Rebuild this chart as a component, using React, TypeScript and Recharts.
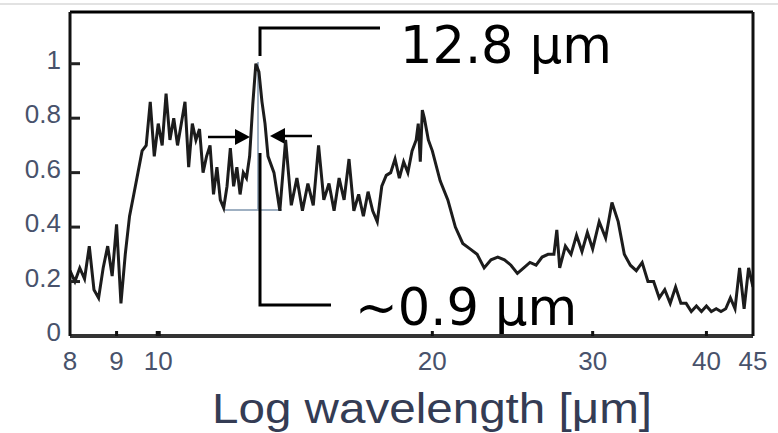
import { Customized, Line, LineChart, ReferenceLine, XAxis, YAxis } from 'recharts';

// wavelength in um, normalised intensity
const wavelength = [
  8.0, 8.1, 8.2, 8.3, 8.4, 8.5, 8.6, 8.7, 8.8, 8.9, 9.0, 9.1, 9.2, 9.3, 9.4, 9.5, 9.6, 9.7, 9.8, 9.9,
  10.0, 10.1, 10.2, 10.3, 10.4, 10.5, 10.6, 10.7, 10.8, 10.9, 11.0, 11.1, 11.2, 11.3, 11.4, 11.5, 11.6, 11.7, 11.8, 11.9,
  12.0, 12.1, 12.2, 12.3, 12.4, 12.5, 12.6, 12.7, 12.8, 12.9, 13.0, 13.1,
  13.2, 13.4, 13.6, 13.8, 14.0, 14.2, 14.4, 14.6, 14.8, 15.0, 15.2, 15.4, 15.6, 15.8, 16.0, 16.2, 16.4, 16.6, 16.8,
  17.0, 17.2, 17.4, 17.6, 17.8, 18.0, 18.2, 18.4, 18.6, 18.8, 19.0, 19.2, 19.3, 19.4, 19.5, 19.6, 19.8, 20.0,
  20.4, 20.8, 21.2, 21.6, 22.0, 22.4, 22.8, 23.2, 23.6, 24.0, 24.4, 24.8, 25.2, 25.6, 26.0, 26.4, 26.8,
  27.2, 27.4, 27.6, 28.0, 28.4, 28.8, 29.2, 29.6, 30.0,
  30.5, 31.0, 31.5, 32.0, 32.5, 33.0, 33.5, 34.0, 34.5, 35.0, 35.5, 36.0, 36.5, 37.0, 37.5, 38.0, 38.5,
  39.0, 39.5, 40.0, 40.5, 41.0, 41.5, 42.0, 42.5, 43.0, 43.5, 44.0, 44.5, 45.0,
];
const intensity = [
  0.24, 0.20, 0.25, 0.21, 0.33, 0.17, 0.14, 0.25, 0.33, 0.22, 0.41, 0.12, 0.30, 0.44, 0.52, 0.60, 0.68, 0.70, 0.86, 0.66,
  0.78, 0.70, 0.89, 0.72, 0.80, 0.70, 0.78, 0.86, 0.62, 0.78, 0.72, 0.76, 0.60, 0.66, 0.70, 0.52, 0.62, 0.50, 0.47, 0.55,
  0.69, 0.55, 0.62, 0.52, 0.60, 0.58, 0.66, 0.85, 1.00, 0.97, 0.86, 0.78,
  0.66, 0.60, 0.46, 0.72, 0.48, 0.58, 0.46, 0.56, 0.48, 0.70, 0.50, 0.56, 0.46, 0.58, 0.50, 0.65, 0.46, 0.52, 0.44,
  0.53, 0.46, 0.42, 0.55, 0.59, 0.60, 0.65, 0.58, 0.64, 0.60, 0.68, 0.72, 0.78, 0.64, 0.83, 0.80, 0.72, 0.68,
  0.57, 0.50, 0.40, 0.34, 0.32, 0.30, 0.25, 0.28, 0.29, 0.28, 0.26, 0.23, 0.25, 0.27, 0.26, 0.29, 0.30,
  0.30, 0.39, 0.25, 0.33, 0.30, 0.37, 0.31, 0.38, 0.32,
  0.42, 0.36, 0.49, 0.42, 0.30, 0.26, 0.24, 0.27, 0.20, 0.20, 0.14, 0.17, 0.12, 0.18, 0.12, 0.12, 0.09,
  0.11, 0.09, 0.11, 0.09, 0.10, 0.09, 0.10, 0.14, 0.10, 0.25, 0.10, 0.25, 0.18,
];
const xTicks = [8, 9, 10, 20, 30, 40, 45];
const yTicks = [0, 0.2, 0.4, 0.6, 0.8, 1];

const data = wavelength.map((w, i) => ({ w, v: intensity[i] }));

const labelColor = '#48526b';

const LeftTick = ({ x, y, payload }: any) => (
  <g>
    {payload.value > 0 && <line x1={x} x2={x + 10} y1={y} y2={y} stroke="#222" strokeWidth={3} />}
    <text x={x - 9} y={y + 5} textAnchor="end" fontSize={26} fill={labelColor} fontFamily="Liberation Sans, Arial, sans-serif">
      {String(payload.value)}
    </text>
  </g>
);

const RightTick = ({ x, y }: any) => (
  <line x1={x - 11} x2={x} y1={y} y2={y} stroke="#222" strokeWidth={3} />
);

const BottomTick = ({ x, y, payload }: any) => (
  <g>
    {payload.value !== 8 && payload.value !== 45 && (
      <line x1={x} x2={x} y1={y} y2={y - 5} stroke="#111" strokeWidth={payload.value === 10 ? 5 : 3} />
    )}
    <text x={x} y={y + 34} textAnchor="middle" fontSize={26} fill={labelColor} fontFamily="Liberation Sans, Arial, sans-serif">
      {String(payload.value)}
    </text>
  </g>
);

const Annotations = () => (
  <g>
    <line x1={0} x2={778} y1={4} y2={4} stroke="#e2e2e2" strokeWidth={2} />
    {/* fwhm guide lines */}
    <line x1={258} x2={258} y1={62} y2={210} stroke="#9fb0c2" strokeWidth={2} />
    <line x1={225} x2={282} y1={210} y2={210} stroke="#9fb0c2" strokeWidth={2} />
    <polyline points="260,56 260,28 380,28" fill="none" stroke="#000" strokeWidth={3} />
    <polyline points="260,153 260,305 331,305" fill="none" stroke="#000" strokeWidth={3} />
    <line x1={208} x2={238} y1={137} y2={137} stroke="#000" strokeWidth={2.5} />
    <polygon points="235,129 250,137 235,145" fill="#000" />
    <line x1={312} x2={283} y1={136} y2={136} stroke="#000" strokeWidth={2.5} />
    <polygon points="285,128 270,136 285,144" fill="#000" />
    <text x={400} y={63} fontSize={51} fill="#000" fontFamily="DejaVu Sans, Verdana, sans-serif">12.8 μm</text>
    <text x={355} y={325} fontSize={51} fill="#000" fontFamily="DejaVu Sans, Verdana, sans-serif">~0.9 μm</text>
    <text
      x={212}
      y={423}
      fontSize={43}
      textLength={440}
      lengthAdjust="spacingAndGlyphs"
      fill="#343c54"
      fontFamily="Liberation Sans, Arial, sans-serif"
    >
      Log wavelength [μm]
    </text>
  </g>
);

export default function App() {
  return (
    <div style={{ position: 'absolute', left: 0, top: 0, background: '#fff' }}>
      <LineChart width={778} height={433} data={data} margin={{ top: 12, right: 0, bottom: 0, left: 0 }}>
        <XAxis
          dataKey="w"
          type="number"
          scale="log"
          domain={[8, 45]}
          ticks={xTicks}
          allowDataOverflow
          height={97}
          tickSize={0}
          tickMargin={0}
          tickLine={false}
          axisLine={{ stroke: '#333', strokeWidth: 4 }}
          tick={<BottomTick />}
          interval={0}
        />
        <YAxis
          yAxisId="left"
          type="number"
          domain={[0, 1.19]}
          ticks={yTicks}
          width={70}
          tickSize={0}
          tickMargin={0}
          tickLine={false}
          axisLine={{ stroke: '#111', strokeWidth: 3 }}
          tick={<LeftTick />}
          interval={0}
        />
        <YAxis
          yAxisId="right"
          orientation="right"
          type="number"
          domain={[0, 1.19]}
          ticks={[0.2, 0.4, 0.6, 0.8, 1]}
          width={25}
          tickSize={0}
          tickMargin={0}
          tickLine={false}
          axisLine={{ stroke: '#111', strokeWidth: 3 }}
          tick={<RightTick />}
          interval={0}
        />
        <ReferenceLine yAxisId="left" y={1.19} stroke="#000" strokeWidth={3} />
        <Line
          yAxisId="left"
          type="linear"
          dataKey="v"
          stroke="#1c1c1c"
          strokeWidth={3}
          dot={false}
          isAnimationActive={false}
        />
        <Customized component={Annotations} />
      </LineChart>
    </div>
  );
}
